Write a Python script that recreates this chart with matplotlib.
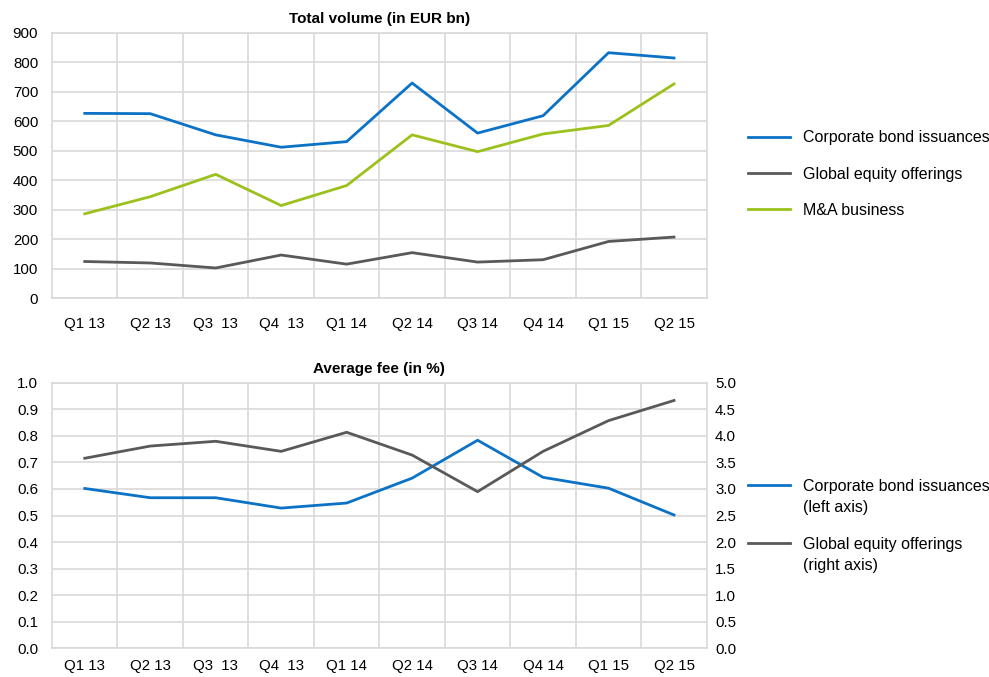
import numpy as np
import matplotlib.pyplot as plt

plt.rcParams['font.family'] = ['Liberation Sans', 'DejaVu Sans']

quarters = ['Q1 13', 'Q2 13', 'Q3  13', 'Q4  13', 'Q1 14', 'Q2 14', 'Q3 14', 'Q4 14', 'Q1 15', 'Q2 15']

# total volume, EUR bn
vol_bonds = [627, 626, 554, 512, 531, 730, 560, 619, 833, 815]
vol_equity = [124, 119, 102, 146, 115, 154, 122, 130, 192, 207]
vol_ma = [286, 344, 420, 314, 382, 554, 497, 557, 586, 727]

# average fee, %
fee_bonds = [0.602, 0.567, 0.567, 0.528, 0.547, 0.641, 0.784, 0.644, 0.603, 0.502]
fee_equity = [3.58, 3.81, 3.90, 3.71, 4.07, 3.64, 2.95, 3.71, 4.29, 4.67]

BLUE = '#0B72C5'
GREY = '#595959'
GREEN = '#9CC11C'
GRID = '#D9D9D9'


def style_ax(ax, n, xpad):
    ax.set_xlim(-0.5, n - 0.5)
    ax.set_xticks(range(n))
    ax.set_xticks(np.arange(0.5, n - 0.5, 1), minor=True)
    ax.tick_params(axis='x', which='both', length=0, pad=xpad, labelsize=10.8)
    ax.tick_params(axis='y', length=0, pad=10, labelsize=10.8)
    ax.grid(True, which='major', axis='y', color=GRID, lw=1.2)
    ax.grid(True, which='minor', axis='x', color=GRID, lw=1.2)
    ax.set_axisbelow(True)
    for s in ax.spines.values():
        s.set_color(GRID)
        s.set_linewidth(1.2)


fig = plt.figure(figsize=(9.89, 6.77), dpi=100)

# top chart
ax1 = fig.add_axes([0.0526, 0.5598, 0.662, 0.3915])
x = np.arange(len(quarters))
ax1.plot(x, vol_bonds, color=BLUE, lw=2, label='Corporate bond issuances')
ax1.plot(x, vol_equity, color=GREY, lw=2, label='Global equity offerings')
ax1.plot(x, vol_ma, color=GREEN, lw=2, label='M&A business')
style_ax(ax1, len(quarters), 14)
ax1.set_ylim(0, 900)
ax1.set_yticks(range(0, 901, 100))
ax1.set_xticklabels(quarters)
ax1.set_title('Total volume (in EUR bn)', fontsize=11, fontweight='bold', pad=7)
ax1.legend(loc='upper left', bbox_to_anchor=(0.750, 0.817), bbox_transform=fig.transFigure,
           frameon=False, fontsize=11.5, handlelength=2.63, handletextpad=0.8,
           labelspacing=1.34, borderaxespad=0)

# bottom chart
ax2 = fig.add_axes([0.0526, 0.0428, 0.662, 0.3915])
l1, = ax2.plot(x, fee_bonds, color=BLUE, lw=2, label='Corporate bond issuances')
style_ax(ax2, len(quarters), 8)
ax2.set_ylim(0, 1.0)
ax2.set_yticks(np.arange(0, 1.01, 0.1))
ax2.set_yticklabels([f'{v:.1f}' for v in np.arange(0, 1.01, 0.1)])
ax2.set_xticklabels(quarters)
ax2.set_title('Average fee (in %)', fontsize=11, fontweight='bold', pad=7)

ax3 = ax2.twinx()
l2, = ax3.plot(x, fee_equity, color=GREY, lw=2, label='Global equity offerings')
ax3.set_ylim(0, 5.0)
ax3.set_yticks(np.arange(0, 5.01, 0.5))
ax3.set_yticklabels([f'{v:.1f}' for v in np.arange(0, 5.01, 0.5)])
ax3.tick_params(axis='y', length=0, pad=6, labelsize=10.8)
for s in ax3.spines.values():
    s.set_visible(False)

ax2.legend(handles=[l1, l2], loc='upper left', bbox_to_anchor=(0.750, 0.3025),
           bbox_transform=fig.transFigure, frameon=False, fontsize=11.5,
           handlelength=2.63, handletextpad=0.8, labelspacing=2.69, borderaxespad=0)
# second lines of the legend labels
fig.text(0.812, 0.251, '(left axis)', fontsize=11.5, va='center', ha='left')
fig.text(0.812, 0.1654, '(right axis)', fontsize=11.5, va='center', ha='left')

plt.savefig('out.png', dpi=100)
